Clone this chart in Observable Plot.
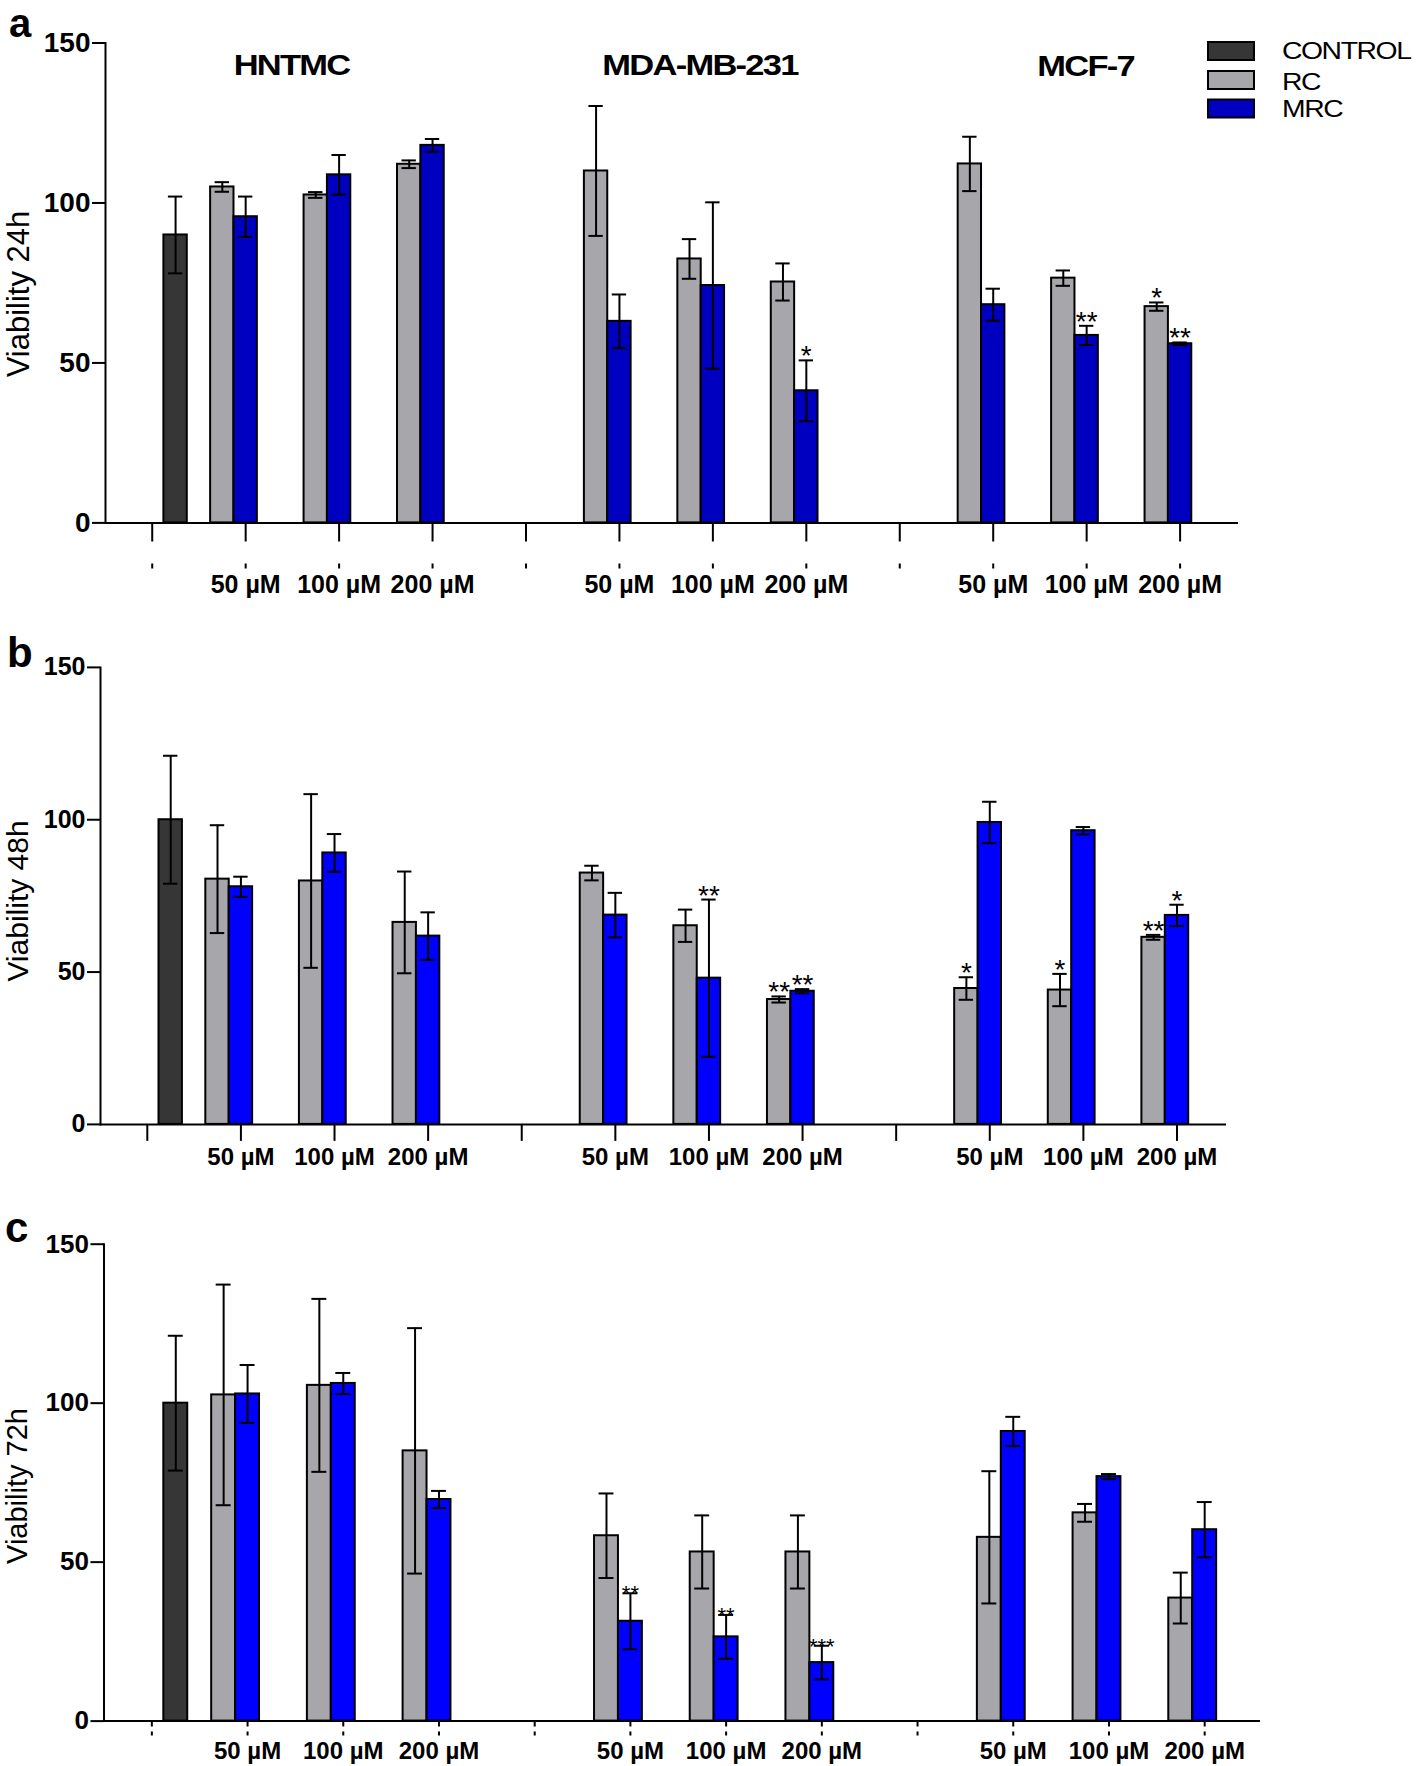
<!DOCTYPE html>
<html><head><meta charset="utf-8">
<script src="https://cdn.jsdelivr.net/npm/d3@7"></script>
<script src="https://cdn.jsdelivr.net/npm/@observablehq/plot@0.6"></script>
<style>
html,body{margin:0;padding:0;background:#fff;}
#fig{position:relative;width:1418px;height:1766px;overflow:hidden;background:#fff;font-family:"Liberation Sans",Arial,sans-serif;}
#fig > .panel{position:absolute;left:0;}
#fig > .panel svg{overflow:visible;}
#overlay{position:absolute;left:0;top:0;pointer-events:none;}
</style></head><body><div id="fig"></div>
<script>
// ---------------- data ----------------
const cellLines = ["HNTMC", "MDA-MB-231", "MCF-7"];
const doses = ["50 µM", "100 µM", "200 µM"];
const seriesNames = ["CONTROL", "RC", "MRC"];
const timeLabels = ["Viability 24h", "Viability 48h", "Viability 72h"];
const panelLetters = ["a", "b", "c"];
const yTicks = [0, 50, 100, 150];

// 24 h  (rows: cell line, columns: dose)
const control24 = [90.0, 12.0];
const rc24 = [[105.0, 102.5, 112.1], [110.0, 82.5, 75.3], [112.2, 76.5, 67.6]];
const rc24Err = [[1.5, 0.9, 1.2], [20.3, 6.2, 5.8], [8.5, 2.4, 1.3]];
const mrc24 = [[95.7, 108.8, 118.0], [63.0, 74.2, 41.3], [68.2, 58.6, 56.0]];
const mrc24Err = [[6.3, 6.2, 2.0], [8.4, 26.0, 9.5], [5.0, 3.0, 0.4]];
const stars24 = [["MDA-MB-231", "200 µM", "MRC", "*"], ["MCF-7", "100 µM", "MRC", "**"], ["MCF-7", "200 µM", "RC", "*"], ["MCF-7", "200 µM", "MRC", "**"]];

// 48 h
const control48 = [100.0, 21.0];
const rc48 = [[80.5, 79.9, 66.3], [82.5, 65.2, 41.0], [44.6, 44.1, 61.4]];
const rc48Err = [[17.7, 28.5, 16.7], [2.4, 5.3, 1.0], [3.7, 5.3, 0.8]];
const mrc48 = [[78.0, 89.1, 61.8], [68.7, 48.0, 43.7], [99.1, 96.4, 68.6]];
const mrc48Err = [[3.3, 6.2, 7.8], [7.3, 25.8, 0.7], [6.8, 1.2, 3.5]];
const stars48 = [["MDA-MB-231", "100 µM", "MRC", "**"], ["MDA-MB-231", "200 µM", "RC", "**"], ["MDA-MB-231", "200 µM", "MRC", "**"], ["MCF-7", "50 µM", "RC", "*"], ["MCF-7", "100 µM", "RC", "*"], ["MCF-7", "200 µM", "RC", "**"], ["MCF-7", "200 µM", "MRC", "*"]];

// 72 h
const control72 = [100.0, 21.2];
const rc72 = [[102.6, 105.6, 85.0], [58.3, 53.2, 53.2], [57.8, 65.5, 38.7]];
const rc72Err = [[34.7, 27.2, 38.6], [13.3, 11.5, 11.5], [20.8, 2.8, 8.0]];
const mrc72 = [[102.9, 106.2, 69.7], [31.4, 26.5, 18.4], [91.1, 76.9, 60.2]];
const mrc72Err = [[9.1, 3.3, 2.7], [8.8, 6.9, 5.3], [4.6, 0.8, 8.7]];
const stars72 = [["MDA-MB-231", "50 µM", "MRC", "**"], ["MDA-MB-231", "100 µM", "MRC", "**"], ["MDA-MB-231", "200 µM", "MRC", "***"]];

// ---------------- layout / style ----------------
const FONT = "'Liberation Sans', Arial, sans-serif";
const panels = [
  {top: 0, height: 610, mt: 42.5, mb: 87.6, ml: 105, mr: 180, axisInsetRight: 0, mrc: "#0000c0", yFont: 28, xFont: 25,
   tickLen: 46, tickDash: "19 22 5", labelPad: 52, starFont: 28, starDy: -4,
   data: [control24, rc24, rc24Err, mrc24, mrc24Err, stars24]},
  {top: 615, height: 570, mt: 51.9, mb: 61.1, ml: 100, mr: 183, axisInsetRight: 9, mrc: "#0000ff", yFont: 25, xFont: 24,
   tickLen: 17, tickDash: null, labelPad: 24, starFont: 28, starDy: -4,
   data: [control48, rc48, rc48Err, mrc48, mrc48Err, stars48]},
  {top: 1190, height: 576, mt: 53.7, mb: 45.4, ml: 103.5, mr: 154, axisInsetRight: 4, mrc: "#0000ff", yFont: 26, xFont: 24,
   tickLen: 15, tickDash: "6 5 4", labelPad: 21, starFont: 22, starDy: 1,
   data: [control72, rc72, rc72Err, mrc72, mrc72Err, stars72]}
];
const colorControl = "#363636", colorRC = "#a6a6ab";

// ---------------- x domain: slots ----------------
const groups = [{id: "ctrl", label: ""}];
cellLines.forEach((c, ci) => {
  if (ci > 0) groups.push({id: "sep" + ci, label: ""});
  doses.forEach(d => groups.push({id: c + "|" + d, label: d}));
});
const slotOrder = ["RC", "MRC", "CONTROL", "gap"];
const keyOf = (g, s) => g + "/" + s;
const xDomain = groups.flatMap(g => slotOrder.map(s => keyOf(g.id, s)));
const tickKeys = groups.map(g => keyOf(g.id, "MRC"));
const labelOf = new Map(groups.map(g => [keyOf(g.id, "MRC"), g.label]));

function buildRows(control, rc, rcErr, mrc, mrcErr) {
  const rows = [{key: keyOf("ctrl", "CONTROL"), series: "CONTROL", value: control[0], err: control[1]}];
  cellLines.forEach((c, ci) => doses.forEach((d, di) => {
    const g = c + "|" + d;
    rows.push({key: keyOf(g, "RC"), series: "RC", value: rc[ci][di], err: rcErr[ci][di]});
    rows.push({key: keyOf(g, "MRC"), series: "MRC", value: mrc[ci][di], err: mrcErr[ci][di]});
  }));
  return rows;
}

const fig = document.getElementById("fig");
panels.forEach((cfg, pi) => {
  const [control, rc, rcErr, mrc, mrcErr, stars] = cfg.data;
  const rows = buildRows(control, rc, rcErr, mrc, mrcErr);
  const byKey = new Map(rows.map(r => [r.key, r]));
  const starRows = stars.map(([c, d, s, lab]) => ({...byKey.get(keyOf(c + "|" + d, s)), label: lab}));
  const hi = d => d.value + d.err, lo = d => d.value - d.err;
  const tickOpts = {ticks: tickKeys, tickSize: cfg.tickLen, tickFormat: () => "", label: null, strokeWidth: 2};
  if (cfg.tickDash) tickOpts.strokeDasharray = cfg.tickDash;
  const chart = Plot.plot({
    width: 1418, height: cfg.height,
    marginTop: cfg.mt, marginBottom: cfg.mb, marginLeft: cfg.ml, marginRight: cfg.mr,
    style: {fontFamily: FONT, fontSize: cfg.yFont + "px", fontWeight: "bold", color: "#000", background: "transparent", overflow: "visible"},
    x: {type: "band", domain: xDomain, paddingInner: 0, paddingOuter: 0.25, align: 1, round: false},
    y: {domain: [0, 150]},
    color: {domain: seriesNames, range: [colorControl, colorRC, cfg.mrc]},
    marks: [
      Plot.barY(rows, {x: "key", y: "value", fill: "series", stroke: "#000", strokeWidth: 2}),
      Plot.ruleX(rows, {x: "key", y1: lo, y2: hi, stroke: "#000", strokeWidth: 2}),
      Plot.tickY(rows, {x: "key", y: hi, stroke: "#000", strokeWidth: 2, insetLeft: 4.5, insetRight: 4.5}),
      Plot.tickY(rows, {x: "key", y: lo, stroke: "#000", strokeWidth: 2, insetLeft: 4.5, insetRight: 4.5}),
      Plot.text(starRows, {x: "key", y: hi, text: "label", lineAnchor: "middle", dy: cfg.starDy, fontSize: cfg.starFont, fontWeight: "normal", fill: "#000"}),
      Plot.ruleY([0], {stroke: "#000", strokeWidth: 2, insetRight: cfg.axisInsetRight}),
      Plot.frame({anchor: "left", stroke: "#000", strokeWidth: 2}),
      Plot.axisY({ticks: yTicks, tickSize: 13, tickPadding: 2, tickFormat: d => String(d), label: null, strokeWidth: 2, fontSize: cfg.yFont, fontWeight: "bold"}),
      Plot.axisX(tickOpts),
      Plot.axisX({ticks: tickKeys, tickSize: 0, tickPadding: cfg.labelPad, tickFormat: k => labelOf.get(k), label: null, fontSize: cfg.xFont, fontWeight: "bold"})
    ]
  });
  const div = document.createElement("div");
  div.className = "panel";
  div.style.top = cfg.top + "px";
  div.appendChild(chart);
  fig.appendChild(div);
});

// ---------------- overlay: letters, titles, axis titles, legend ----------------
const ov = d3.select(fig).append("svg").attr("id", "overlay").attr("width", 1418).attr("height", 1766)
  .style("font-family", FONT);
const letterPos = [[9, 37, 40], [7, 667, 42], [5, 1242, 42]];
panelLetters.forEach((l, i) => ov.append("text").attr("x", letterPos[i][0]).attr("y", letterPos[i][1])
  .attr("font-size", letterPos[i][2]).attr("font-weight", "bold").text(l));
const yLabelPos = [[29, 294, 31], [28, 901, 30], [27, 1486, 29]];
timeLabels.forEach((t, i) => ov.append("text").attr("transform", `translate(${yLabelPos[i][0]},${yLabelPos[i][1]}) rotate(-90)`)
  .attr("text-anchor", "middle").attr("font-size", yLabelPos[i][2]).text(t));
const titlePos = [[291.6, 75], [700, 75], [1085.6, 75.5]];
cellLines.forEach((c, i) => ov.append("text").attr("transform", `translate(${titlePos[i][0]},${titlePos[i][1]}) scale(1.15,1)`)
  .attr("text-anchor", "middle").attr("font-size", 30).attr("font-weight", "bold").attr("letter-spacing", -1.5).text(c));
const legendColors = [colorControl, colorRC, panels[0].mrc];
const legendY = [[42, 59.3], [71, 89.5], [99.5, 117.3]];
seriesNames.forEach((s, i) => {
  ov.append("rect").attr("x", 1208).attr("y", legendY[i][0]).attr("width", 46).attr("height", 18)
    .attr("fill", legendColors[i]).attr("stroke", "#000").attr("stroke-width", 2);
  ov.append("text").attr("transform", `translate(1282,${legendY[i][1]}) scale(1.18,1)`)
    .attr("font-size", 24).attr("letter-spacing", -1.2).text(s);
});
</script></body></html>
